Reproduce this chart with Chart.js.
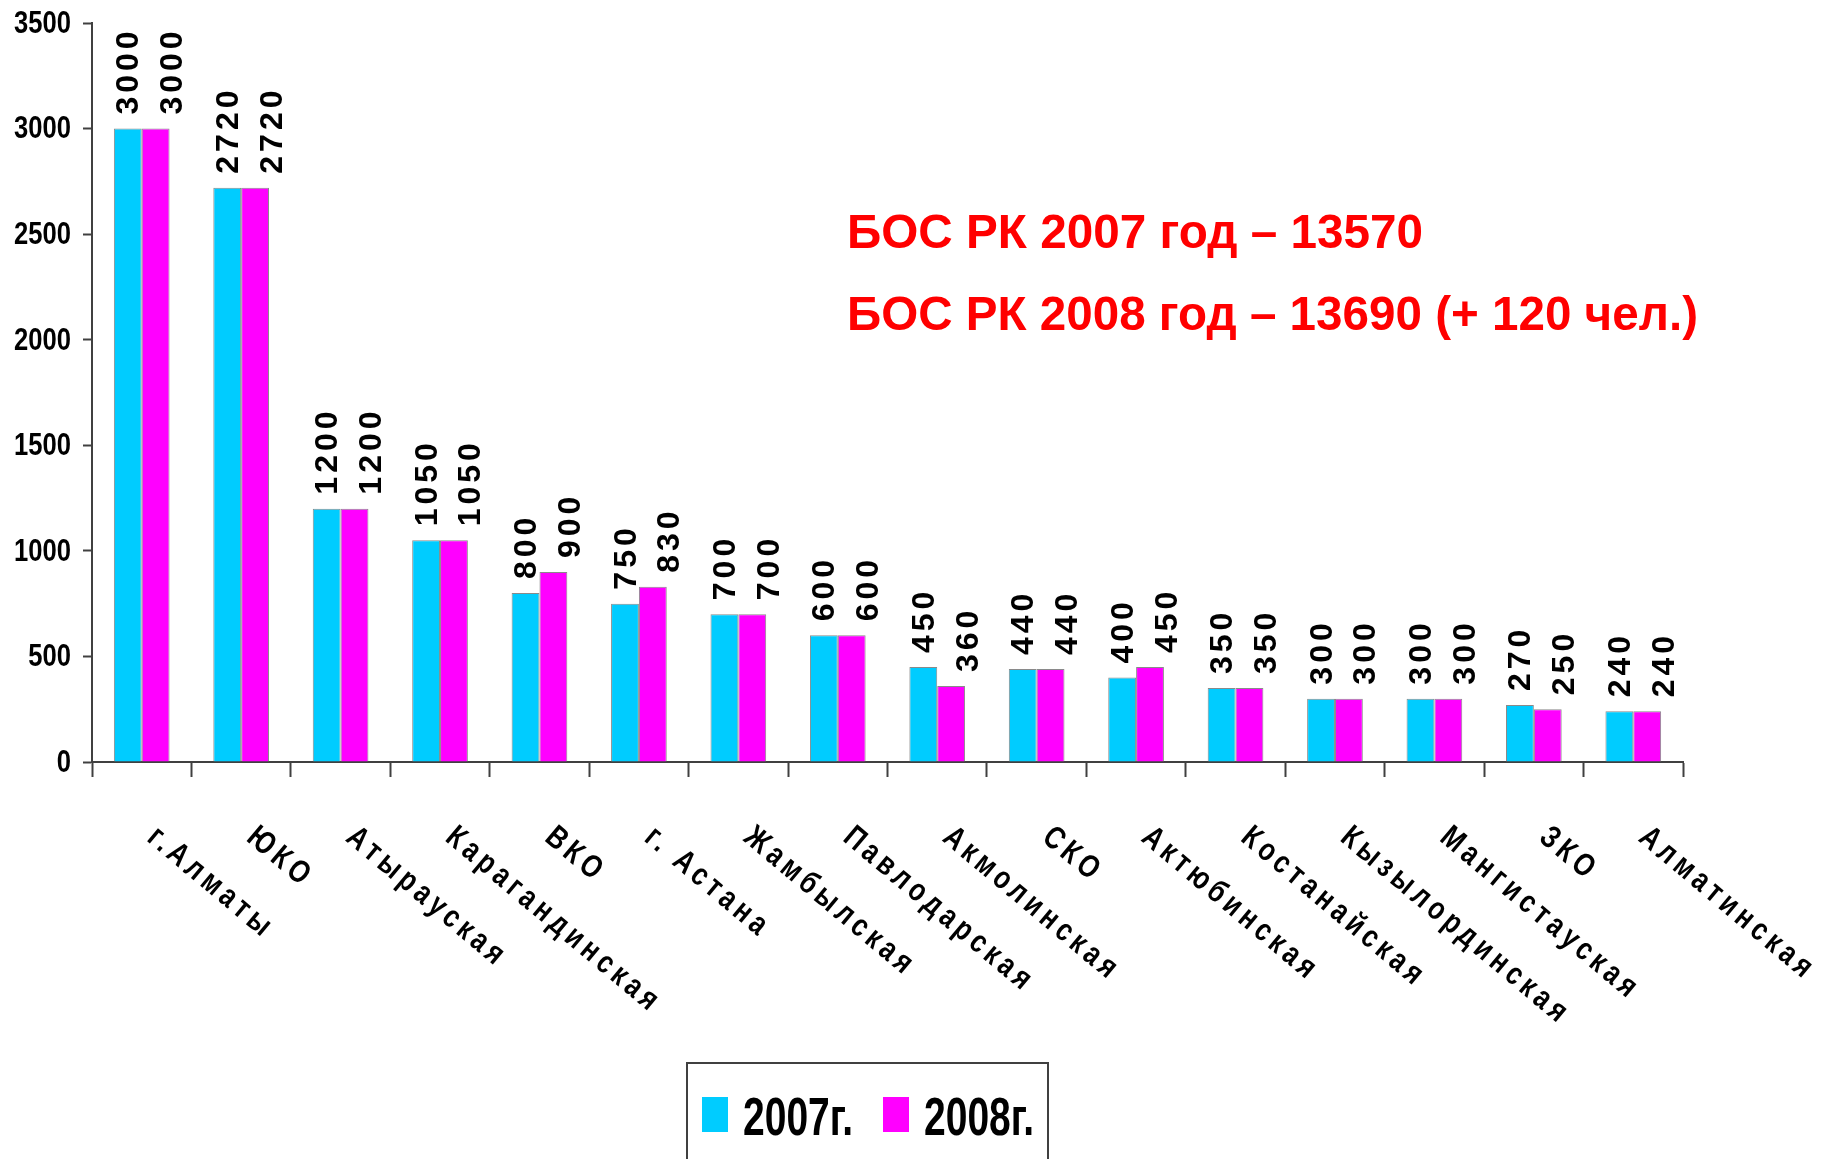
<!DOCTYPE html>
<html>
<head>
<meta charset="utf-8">
<script src="https://cdn.jsdelivr.net/npm/chart.js@4.4.0/dist/chart.umd.min.js"></script>
<style>
  body { margin: 0; background: #fff; }
  #wrap { width: 1826px; height: 1159px; position: relative; }
</style>
</head>
<body>
<div id="wrap"><canvas id="bos-chart"></canvas></div>
<script>
const regions = ['г.Алматы', 'ЮКО', 'Атырауская', 'Карагандинская', 'ВКО', 'г. Астана', 'Жамбылская',
    'Павлодарская', 'Акмолинская', 'СКО', 'Актюбинская', 'Костанайская', 'Кызылординская',
    'Мангистауская', 'ЗКО', 'Алматинская'];
const values2007 = [3000, 2720, 1200, 1050, 800, 750, 700, 600, 450, 440, 400, 350, 300, 300, 270, 240];
const values2008 = [3000, 2720, 1200, 1050, 900, 830, 700, 600, 360, 440, 450, 350, 300, 300, 250, 240];
const seriesNames = ['2007г.', '2008г.'];
const yTicks = [0, 500, 1000, 1500, 2000, 2500, 3000, 3500];
const noteLines = ['БОС РК 2007 год – 13570', 'БОС РК 2008 год – 13690 (+ 120 чел.)'];

const FONT = '"Liberation Sans", Arial, sans-serif';
const AXIS = '#404040';

// text squeezed sideways, the system has no narrow face
function squeezed(ctx, text, x, y, sx, align) {
    ctx.save();
    ctx.translate(x, y);
    ctx.scale(sx, 1);
    ctx.textAlign = align || 'left';
    ctx.fillText(text, 0, 0);
    ctx.restore();
}

// value labels above bars, rotated
const valueLabels = {
    id: 'valueLabels',
    afterDatasetsDraw(chart) {
        const ctx = chart.ctx;
        const shift = [-1, 15];
        const size = 32;
        ctx.save();
        ctx.font = 'bold ' + size + 'px ' + FONT;
        ctx.fillStyle = '#000';
        ctx.letterSpacing = '4px';
        chart.data.datasets.forEach((ds, di) => {
            chart.getDatasetMeta(di).data.forEach((bar, i) => {
                ctx.save();
                ctx.translate(bar.x + shift[di] + size * 0.36, bar.y - 14);
                ctx.rotate(-Math.PI / 2);
                ctx.textAlign = 'left';
                ctx.textBaseline = 'alphabetic';
                ctx.fillText(String(ds.data[i]), 0, 0);
                ctx.restore();
            });
        });
        ctx.restore();
    }
};

// y tick labels, slanted category labels, legend box and red note
const extras = {
    id: 'extras',
    afterDraw(chart) {
        const ctx = chart.ctx;
        const x = chart.scales.x;
        const y = chart.scales.y;

        ctx.save();
        ctx.font = 'bold 32px ' + FONT;
        ctx.fillStyle = '#000';
        ctx.textBaseline = 'middle';
        y.ticks.forEach(t => {
            squeezed(ctx, String(t.value), 71, y.getPixelForValue(t.value) + 1, 0.8, 'right');
        });
        ctx.restore();

        const ang = 40 * Math.PI / 180;
        ctx.save();
        ctx.font = 'bold 32px ' + FONT;
        ctx.fillStyle = '#000';
        ctx.letterSpacing = '6px';
        ctx.textBaseline = 'alphabetic';
        chart.data.labels.forEach((lab, i) => {
            const px = x.getPixelForValue(i);
            ctx.save();
            ctx.translate(px + 4, 840);
            ctx.rotate(ang);
            ctx.scale(0.8, 1);
            ctx.fillText(lab, 0, 0);
            ctx.restore();
        });
        ctx.restore();

        // legend
        ctx.save();
        ctx.strokeStyle = AXIS;
        ctx.lineWidth = 2;
        ctx.strokeRect(687, 1063, 361, 120);
        const boxX = [702, 883];
        ctx.font = 'bold 53px ' + FONT;
        ctx.textBaseline = 'alphabetic';
        chart.data.datasets.forEach((ds, di) => {
            ctx.fillStyle = ds.backgroundColor;
            ctx.fillRect(boxX[di], 1097, 26, 35);
            ctx.fillStyle = '#000';
            const w = ctx.measureText(ds.label).width;
            squeezed(ctx, ds.label, boxX[di] + 41, 1135, 110 / w);
        });
        ctx.restore();

        // red note
        ctx.save();
        ctx.font = 'bold 49px ' + FONT;
        ctx.fillStyle = '#FF0000';
        ctx.textBaseline = 'alphabetic';
        squeezed(ctx, noteLines[0], 847, 248, 576 / ctx.measureText(noteLines[0]).width);
        squeezed(ctx, noteLines[1], 847, 330, 851 / ctx.measureText(noteLines[1]).width);
        ctx.restore();
    }
};

const ctx = document.getElementById('bos-chart').getContext('2d');
new Chart(ctx, {
    type: 'bar',
    data: {
        labels: regions,
        datasets: [
            {
                label: seriesNames[0],
                data: values2007,
                backgroundColor: '#00CCFF',
                borderColor: '#8a8a8a',
                borderWidth: 1
            },
            {
                label: seriesNames[1],
                data: values2008,
                backgroundColor: '#FF00FF',
                borderColor: '#8a8a8a',
                borderWidth: 1
            }
        ]
    },
    options: {
        responsive: true,
        maintainAspectRatio: false,
        animation: false,
        devicePixelRatio: 1,
        categoryPercentage: 0.56,
        barPercentage: 1.0,
        layout: {
            padding: { left: 0, right: 143, top: 23, bottom: 0 }
        },
        plugins: {
            legend: { display: false },
            tooltip: { enabled: false }
        },
        scales: {
            x: {
                grid: {
                    offset: true,
                    drawOnChartArea: false,
                    tickLength: 15,
                    tickWidth: 2,
                    tickColor: AXIS
                },
                border: { color: AXIS, width: 2 },
                ticks: { display: false },
                afterFit(scale) { scale.height = 397; }
            },
            y: {
                min: 0,
                max: 3500,
                afterBuildTicks(scale) {
                    scale.ticks = yTicks.map(v => ({ value: v }));
                },
                grid: {
                    drawOnChartArea: false,
                    tickLength: 9,
                    tickWidth: 2,
                    tickColor: AXIS
                },
                border: { color: AXIS, width: 2 },
                ticks: { display: false },
                afterFit(scale) { scale.width = 92; }
            }
        }
    },
    plugins: [valueLabels, extras]
});
</script>
</body>
</html>
